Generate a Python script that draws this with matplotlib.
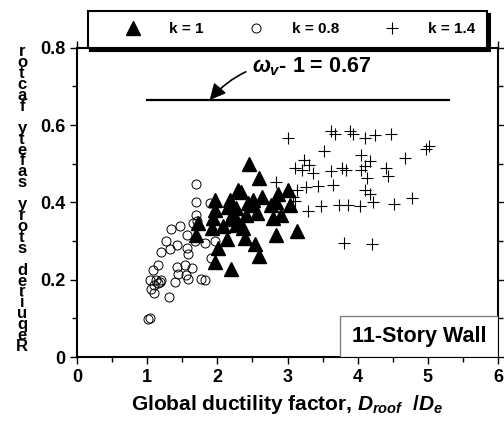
import matplotlib
matplotlib.use("Agg")
import matplotlib.pyplot as plt
from matplotlib.patches import Rectangle
from matplotlib.ticker import MultipleLocator

plt.rcParams['font.family'] = ['Liberation Sans', 'DejaVu Sans']
plt.rcParams['font.weight'] = 'bold'
plt.rcParams['axes.labelweight'] = 'bold'
plt.rcParams['mathtext.fontset'] = 'custom'
plt.rcParams['mathtext.rm'] = 'Liberation Sans:bold'
plt.rcParams['mathtext.it'] = 'Liberation Sans:italic:bold'
plt.rcParams['mathtext.bf'] = 'Liberation Sans:bold'

# k = 0.8 (open circles)
x_08 = [1.70, 1.69, 1.89, 1.70, 1.65, 1.34, 1.46, 1.57, 1.27, 1.42, 1.33, 1.20,
        1.56, 1.58, 1.82, 1.96, 1.91, 1.15, 1.08, 1.43, 1.54, 1.64, 1.04, 1.13,
        1.18, 1.20, 1.16, 1.10, 1.06, 1.10, 1.39, 1.44, 1.55, 1.58, 1.77, 1.83,
        1.31, 1.01, 1.04, 1.68, 1.71]
y_08 = [0.447, 0.402, 0.398, 0.368, 0.348, 0.331, 0.340, 0.316, 0.299, 0.290,
        0.279, 0.273, 0.282, 0.267, 0.294, 0.299, 0.256, 0.237, 0.225, 0.232,
        0.239, 0.230, 0.199, 0.199, 0.195, 0.199, 0.191, 0.187, 0.175, 0.165,
        0.193, 0.215, 0.212, 0.201, 0.201, 0.199, 0.155, 0.098, 0.100, 0.299,
        0.351]

# k = 1 (filled triangles)
x_1 = [2.45, 2.60, 2.29, 2.34, 1.96, 2.63, 2.86, 3.01, 1.96, 2.15, 2.22, 2.44,
       2.51, 2.56, 2.20, 1.94, 1.73, 2.08, 2.27, 1.92, 2.37, 2.84, 2.91, 2.79,
       3.03, 2.39, 2.13, 1.70, 2.53, 2.01, 2.84, 3.13, 2.60, 1.96, 2.20, 2.27,
       2.41, 2.25, 2.18, 2.51, 2.77]
y_1 = [0.499, 0.463, 0.433, 0.428, 0.407, 0.414, 0.421, 0.433, 0.381, 0.389,
       0.372, 0.398, 0.394, 0.372, 0.359, 0.359, 0.348, 0.338, 0.342, 0.333,
       0.333, 0.402, 0.368, 0.359, 0.394, 0.307, 0.305, 0.316, 0.293, 0.282,
       0.316, 0.325, 0.262, 0.247, 0.227, 0.385, 0.368, 0.356, 0.407, 0.407,
       0.394]

# k = 1.4 (plus)
x_14 = [3.01, 3.62, 3.67, 3.89, 3.93, 4.10, 4.24, 4.48, 5.02, 4.97, 4.67, 3.52,
        3.24, 3.31, 3.10, 3.20, 3.36, 3.62, 3.77, 3.84, 4.05, 4.17, 4.10, 4.05,
        4.14, 4.41, 4.43, 2.84, 3.13, 3.27, 3.43, 3.65, 4.10, 4.17, 3.10, 3.48,
        3.29, 3.74, 3.86, 4.03, 4.22, 4.52, 4.78, 3.81, 4.21, 3.08]
y_14 = [0.567, 0.584, 0.577, 0.584, 0.577, 0.568, 0.575, 0.577, 0.545, 0.538,
        0.515, 0.532, 0.510, 0.497, 0.490, 0.483, 0.476, 0.482, 0.489, 0.483,
        0.523, 0.506, 0.493, 0.485, 0.463, 0.490, 0.469, 0.454, 0.433, 0.440,
        0.443, 0.445, 0.433, 0.421, 0.404, 0.391, 0.378, 0.394, 0.394, 0.391,
        0.402, 0.395, 0.411, 0.296, 0.292, 0.415]

omega_level = 0.665
omega_x = [1.0, 5.3]

fig = plt.figure(figsize=(5.04, 4.33), dpi=100)
ax = fig.add_axes([0.153, 0.1755, 0.835, 0.714])

ax.plot(x_08, y_08, linestyle='none', marker='o', markersize=6.5,
        markerfacecolor='none', markeredgecolor='k', markeredgewidth=0.7,
        label='k = 0.8')
ax.plot(x_1, y_1, linestyle='none', marker='^', markersize=9.5,
        color='k', label='k = 1')
ax.plot(x_14, y_14, linestyle='none', marker='+', markersize=8,
        color='k', markeredgewidth=0.8, label='k = 1.4')

ax.plot(omega_x, [omega_level] * 2, color='k', lw=1.6)
ax.annotate(r'$\omega_v$- 1 = 0.67', xy=(1.89, omega_level), xytext=(2.5, 0.752),
            fontsize=15.5, va='center', ha='left',
            arrowprops=dict(arrowstyle='-|>', color='k', lw=1.2,
                            mutation_scale=24,
                            connectionstyle='arc3,rad=0.3',
                            shrinkA=3, shrinkB=0))

ax.add_patch(Rectangle((3.75, 0), 2.25, 0.106, facecolor='white',
                       edgecolor='gray', lw=1, zorder=3))
ax.text(4.88, 0.052, '11-Story Wall', fontsize=15.5, ha='center', va='center',
        zorder=4)

ax.set_xlim(0, 6)
ax.set_ylim(0, 0.8)
ax.xaxis.set_major_locator(MultipleLocator(1))
ax.xaxis.set_minor_locator(MultipleLocator(0.5))
ax.yaxis.set_major_locator(MultipleLocator(0.2))
ax.yaxis.set_minor_locator(MultipleLocator(0.1))
ax.yaxis.set_major_formatter(plt.FuncFormatter(lambda v, p: '0' if v == 0 else f'{v:.1f}'))
ax.tick_params(which='both', direction='out', top=True, right=True,
               labelsize=13, width=1)
ax.tick_params(which='major', length=5)
ax.tick_params(which='minor', length=3.5)
for s in ax.spines.values():
    s.set_linewidth(1.5)

ax.set_xlabel(r'Global ductility factor, $D_{roof}$  /$D_e$', fontsize=15,
              labelpad=5)

h, l = ax.get_legend_handles_labels()
order = [1, 0, 2]
leg = fig.legend([h[i] for i in order], [l[i] for i in order], ncol=3,
                 loc='center', bbox_to_anchor=(0.57, 0.932), fontsize=11,
                 frameon=True, fancybox=False, edgecolor='k',
                 shadow={'color': 'k', 'alpha': 1},
                 handlelength=4.4, handletextpad=0.2, columnspacing=1.2,
                 borderpad=0.75)
leg.get_frame().set_linewidth(1.5)

# y label: letters stacked upright, top to bottom
ylab = 'Required story safety factor'
fig.text(22 / 504, 0.54, '\n'.join(reversed(ylab)), fontsize=12,
         fontweight='bold', ha='center', va='center', linespacing=0.66,
         multialignment='center')

fig.savefig('out.png', dpi=100)
